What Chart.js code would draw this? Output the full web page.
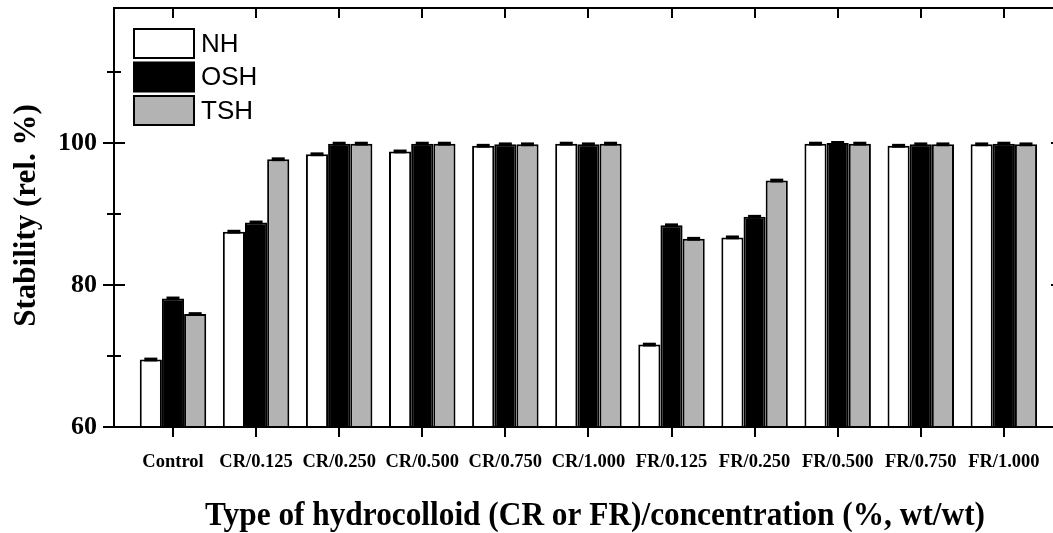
<!DOCTYPE html>
<html>
<head>
<meta charset="utf-8">
<script src="https://cdn.jsdelivr.net/npm/chart.js@4.4.1/dist/chart.umd.min.js"></script>
<style>
    html, body { margin: 0; padding: 0; background: #fff; overflow: hidden; }
    #wrap { width: 1080px; height: 533px; }
</style>
</head>
<body>
<div id="wrap"><canvas id="chart" width="1080" height="533"></canvas></div>
<script>
const categories = ["Control", "CR/0.125", "CR/0.250", "CR/0.500", "CR/0.750", "CR/1.000",
    "FR/0.125", "FR/0.250", "FR/0.500", "FR/0.750", "FR/1.000"];
const nhValues  = [69.5, 87.5, 98.4, 98.8, 99.6, 99.9, 71.6, 86.7, 99.9, 99.6, 99.8];
const oshValues = [78.1, 88.8, 99.9, 99.9, 99.8, 99.8, 88.4, 89.6, 100.0, 99.8, 99.9];
const tshValues = [75.9, 97.7, 99.9, 99.9, 99.8, 99.9, 86.5, 94.7, 99.9, 99.8, 99.8];
const nhErrors  = [0.2, 0.2, 0.2, 0.2, 0.2, 0.2, 0.2, 0.2, 0.2, 0.2, 0.2];
const oshErrors = [0.2, 0.2, 0.2, 0.2, 0.2, 0.2, 0.2, 0.2, 0.2, 0.2, 0.2];
const tshErrors = [0.2, 0.2, 0.2, 0.2, 0.2, 0.2, 0.2, 0.2, 0.2, 0.2, 0.2];
const yMajorTicks = [60, 80, 100];
const yMinorTicks = [70, 90, 110];
const seriesNames = ["NH", "OSH", "TSH"];
const seriesColors = ["#ffffff", "#000000", "#b3b3b3"];
const xTitle = "Type of hydrocolloid (CR or FR)/concentration (%, wt/wt)";
const yTitle = "Stability (rel. %)";

Chart.defaults.font.family = "'Liberation Serif', 'Times New Roman', serif";
Chart.defaults.color = "#000";

function toPoints(values) {
    return values.map((v, i) => ({ x: i, y: v }));
}

// axis frame with ticks on all four sides
const framePlugin = {
    id: "frame",
    afterDraw(chart) {
        const { ctx, chartArea: a, scales } = chart;
        ctx.save();
        ctx.strokeStyle = "#000";
        ctx.lineWidth = 2;
        ctx.strokeRect(a.left, a.top, a.right - a.left, a.bottom - a.top);
        ctx.beginPath();
        categories.forEach((c, i) => {
            const x = Math.round(scales.x.getPixelForValue(i));
            ctx.moveTo(x, a.bottom);
            ctx.lineTo(x, a.bottom + 10);
            ctx.moveTo(x, a.top);
            ctx.lineTo(x, a.top + 10);
        });
        yMajorTicks.forEach(v => {
            const y = Math.round(scales.y.getPixelForValue(v));
            ctx.moveTo(a.left - 11, y);
            ctx.lineTo(a.left + 11, y);
            ctx.moveTo(a.right - 11, y);
            ctx.lineTo(a.right + 11, y);
        });
        yMinorTicks.forEach(v => {
            const y = Math.round(scales.y.getPixelForValue(v));
            ctx.moveTo(a.left - 7, y);
            ctx.lineTo(a.left + 7, y);
            ctx.moveTo(a.right - 7, y);
            ctx.lineTo(a.right + 7, y);
        });
        ctx.stroke();
        ctx.restore();
    }
};

// error bars: tiny spread, so each shows as a short solid dash on the bar top
const errorPlugin = {
    id: "errorCaps",
    afterDatasetsDraw(chart) {
        const { ctx, scales } = chart;
        ctx.save();
        ctx.fillStyle = "#000";
        chart.data.datasets.forEach((ds, d) => {
            const meta = chart.getDatasetMeta(d);
            meta.data.forEach((bar, i) => {
                const v = ds.data[i].y;
                const e = ds.errors[i];
                const yHi = scales.y.getPixelForValue(v + e);
                const yLo = scales.y.getPixelForValue(v - e);
                ctx.fillRect(bar.x - 6.5, yHi - 0.5, 13, yLo - yHi + 1);
            });
        });
        ctx.restore();
    }
};

// legend boxes in the upper left corner of the plot
const legendPlugin = {
    id: "boxLegend",
    afterDraw(chart) {
        const { ctx, chartArea: a } = chart;
        ctx.save();
        ctx.font = "26px 'Liberation Sans', Arial, sans-serif";
        ctx.textBaseline = "middle";
        ctx.textAlign = "left";
        seriesNames.forEach((name, i) => {
            const x = a.left + 20;
            const y = a.top + 21 + i * 33.5;
            ctx.fillStyle = seriesColors[i];
            ctx.fillRect(x, y, 60, 29);
            ctx.strokeStyle = "#000";
            ctx.lineWidth = 2;
            ctx.strokeRect(x, y, 60, 29);
            ctx.fillStyle = "#000";
            ctx.fillText(name, x + 67, y + 15.5);
        });
        ctx.restore();
    }
};

// axis titles, the x title set in a narrow bold face
const titlesPlugin = {
    id: "axisTitles",
    afterDraw(chart) {
        const { ctx, chartArea: a } = chart;
        ctx.save();
        ctx.fillStyle = "#000";
        ctx.textAlign = "center";
        ctx.textBaseline = "middle";

        ctx.font = "bold 33px 'Liberation Serif', 'Times New Roman', serif";
        const w = ctx.measureText(xTitle).width;
        const sx = 780 / w;
        ctx.save();
        ctx.translate(595, 516);
        ctx.scale(sx, 1);
        ctx.fillText(xTitle, 0, 0);
        ctx.restore();

        ctx.font = "bold 31px 'Liberation Serif', 'Times New Roman', serif";
        ctx.save();
        ctx.translate(27, (a.top + a.bottom) / 2 - 2);
        ctx.rotate(-Math.PI / 2);
        ctx.fillText(yTitle, 0, 0);
        ctx.restore();

        ctx.restore();
    }
};

const errorSets = [nhErrors, oshErrors, tshErrors];
const valueSets = [nhValues, oshValues, tshValues];

new Chart(document.getElementById("chart"), {
    type: "bar",
    data: {
        datasets: seriesNames.map((name, i) => ({
            label: name,
            data: toPoints(valueSets[i]),
            errors: errorSets[i],
            backgroundColor: seriesColors[i],
            borderColor: "#000",
            borderWidth: 2,
            categoryPercentage: 0.8,
            barPercentage: 1.0
        }))
    },
    options: {
        responsive: false,
        animation: false,
        layout: { padding: { top: 8, right: 18, left: 0, bottom: 0 } },
        plugins: {
            legend: { display: false },
            tooltip: { enabled: false }
        },
        scales: {
            x: {
                type: "linear",
                offset: false,
                min: -0.71,
                max: 10.7,
                grid: { display: false, drawTicks: false },
                border: { display: false },
                afterBuildTicks: scale => {
                    scale.ticks = categories.map((c, i) => ({ value: i }));
                },
                afterFit: scale => {
                    scale.height = 106;
                    scale.paddingLeft = 0;
                    scale.paddingRight = 0;
                },
                ticks: {
                    autoSkip: false,
                    maxRotation: 0,
                    padding: 24,
                    font: { size: 18.5, weight: "bold" },
                    callback: v => categories[v]
                }
            },
            y: {
                min: 60,
                max: 119,
                grid: { display: false, drawTicks: false },
                border: { display: false },
                afterBuildTicks: scale => {
                    scale.ticks = yMajorTicks.map(v => ({ value: v }));
                },
                afterFit: scale => {
                    scale.width = 114;
                    scale.paddingTop = 0;
                    scale.paddingBottom = 0;
                },
                ticks: {
                    padding: 17,
                    font: { size: 26, weight: "bold" }
                }
            }
        }
    },
    plugins: [framePlugin, errorPlugin, legendPlugin, titlesPlugin]
});
</script>
</body>
</html>
